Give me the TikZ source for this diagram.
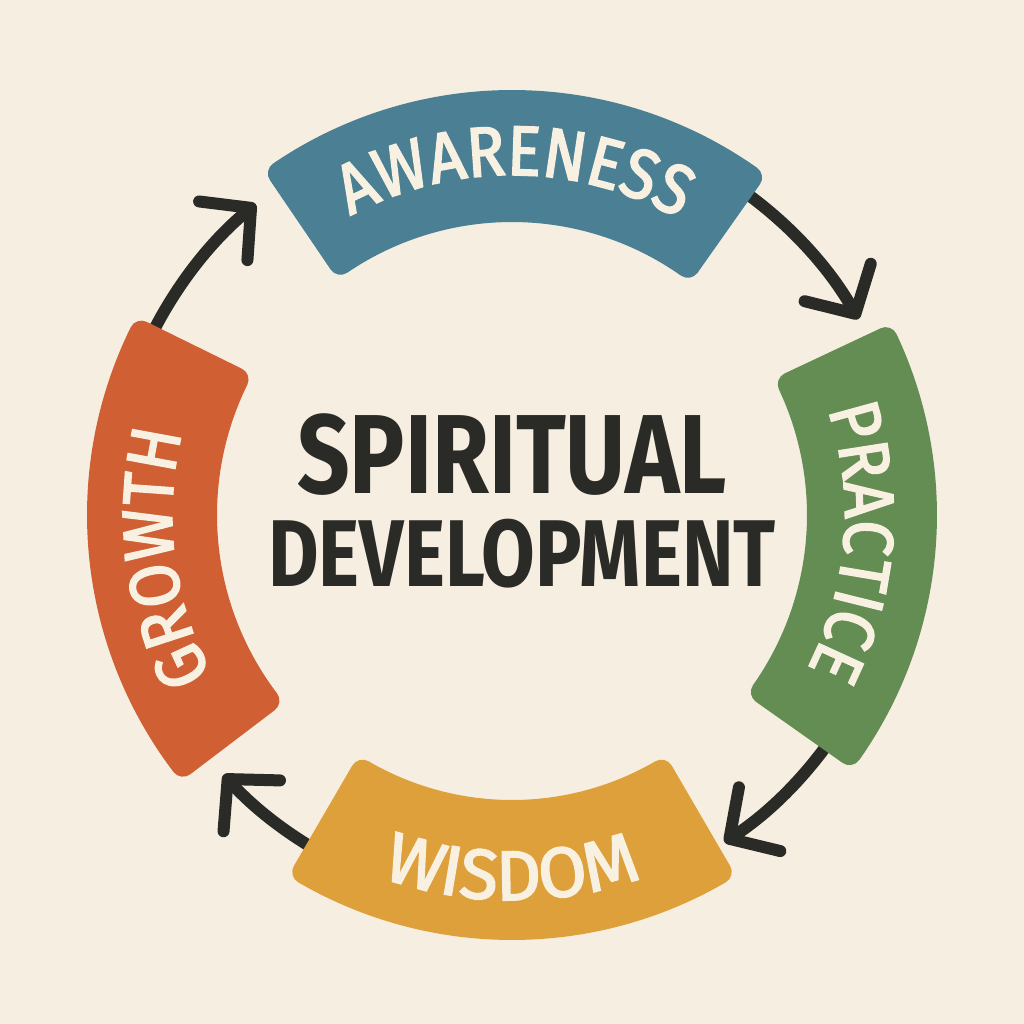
\documentclass[tikz,border=0pt]{standalone}
\usepackage{fontspec}
\setmainfont{Fira Sans}
\newfontfamily\condfont[FakeStretch=0.82]{Fira Sans}
\newfontfamily\ringfont[FakeStretch=0.9,FakeBold=2.5]{Fira Sans}
\newfontfamily\wideringfont[FakeBold=2.5]{Fira Sans}
\usetikzlibrary{arrows.meta,positioning,decorations.text}
\definecolor{SpPaper}{HTML}{F6EFE1}
\definecolor{SpInk}{HTML}{2A2A27}
\definecolor{SpCream}{HTML}{F8F1E2}
\definecolor{SpBlue}{HTML}{4A7F94}
\definecolor{SpGreen}{HTML}{638D52}
\definecolor{SpGold}{HTML}{DEA03A}
\definecolor{SpRust}{HTML}{D05F34}

\begin{document}
\begin{tikzpicture}[
    seg/.style={line width=2.4mm,line join=round},
    flow/.style={-{Straight Barb[length=3.6mm,width=7.6mm,round]},line width=1.2mm,
      draw=SpInk,line cap=round},
    title/.style={font=\condfont\bfseries\fontsize{32}{32}\selectfont,text=SpInk,
      inner sep=0pt,anchor=base},
    ringtext/.style 2 args={decorate,decoration={text along path,text align=center,
      text={|#1\fontsize{20}{20}\selectfont\color{SpCream}|#2}}}
  ]
    \fill[SpPaper] (-5.12,-5.09) rectangle (5.12,5.15);
    \useasboundingbox (-5.12,-5.09) rectangle (5.12,5.15);

    % arrows between the stages (drawn first, they start under the bands)
    \coordinate (ga) at (156:4.03);
    \coordinate (ap) at (56:3.98);
    \coordinate (pw) at (-33:3.9);
    \coordinate (wg) at (-118:3.88);
    \draw[flow] (ga) arc[start angle=156,end angle=129.5,radius=4.03];
    \draw[flow] (ap) arc[start angle=56,end angle=29.5,radius=3.98];
    \draw[flow] (pw) arc[start angle=-33,end angle=-57,radius=3.9];
    \draw[flow] (wg) arc[start angle=-118,end angle=-138,radius=3.88];

    % bands
    \filldraw[seg,fill=SpBlue,draw=SpBlue] (54.8:3.05)
      arc[start angle=54.8,end angle=124.2,radius=3.05] -- (124.2:4.13)
      arc[start angle=124.2,end angle=54.8,radius=4.13] -- cycle;
    \filldraw[seg,fill=SpGreen,draw=SpGreen] (-35.2:3.07)
      arc[start angle=-35.2,end angle=25.2,radius=3.07] -- (25.2:4.13)
      arc[start angle=25.2,end angle=-35.2,radius=4.13] -- cycle;
    \filldraw[seg,fill=SpGold,draw=SpGold] (-120.2:2.97)
      arc[start angle=-120.2,end angle=-59.8,radius=2.97] -- (-59.8:4.13)
      arc[start angle=-59.8,end angle=-120.2,radius=4.13] -- cycle;
    \filldraw[seg,fill=SpRust,draw=SpRust] (153.8:3.07)
      arc[start angle=153.8,end angle=217.2,radius=3.07] -- (217.2:4.13)
      arc[start angle=217.2,end angle=153.8,radius=4.13] -- cycle;

    % band labels
    \path[ringtext={\ringfont}{AWARENESS}] (126:3.4) arc[start angle=126,end angle=53,radius=3.4];
    \path[ringtext={\ringfont}{PRACTICE}] (25:3.33) arc[start angle=25,end angle=-34,radius=3.33];
    \path[ringtext={\wideringfont}{WISDOM}] (-122:3.85) arc[start angle=-122,end angle=-58,radius=3.85];
    \path[ringtext={\ringfont}{GROWTH}] (220.5:3.4) arc[start angle=220.5,end angle=153.5,radius=3.4];

    % centre
    \node[title] (spirit) at (0,0.22) {SPIRITUAL};
    \node[title,font=\condfont\bfseries\fontsize{27}{27}\selectfont] (devel)
      at (0.1,-0.71) {DEVELOPMENT};
  \end{tikzpicture}
\end{document}
